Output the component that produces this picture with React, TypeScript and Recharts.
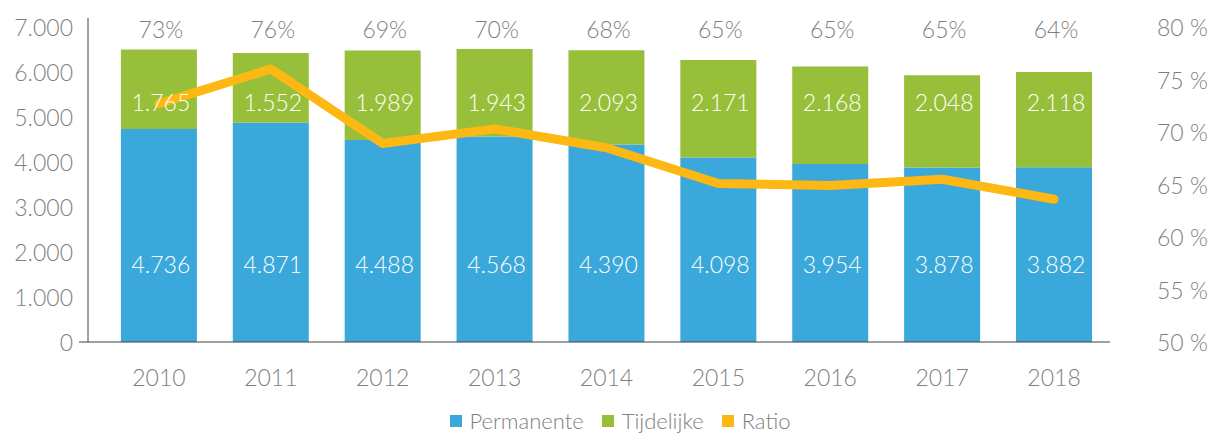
import React from "react";
import {
  ComposedChart,
  Bar,
  Line,
  XAxis,
  YAxis,
  Legend,
  LabelList,
} from "recharts";

const years = ["2010", "2011", "2012", "2013", "2014", "2015", "2016", "2017", "2018"];
const permanente = [4736, 4871, 4488, 4568, 4390, 4098, 3954, 3878, 3882];
const tijdelijke = [1765, 1552, 1989, 1943, 2093, 2171, 2168, 2048, 2118];
const ratio = [72.7, 76.0, 68.9, 70.3, 68.5, 65.1, 64.9, 65.5, 63.6];
const ratioLabels = ["73%", "76%", "69%", "70%", "68%", "65%", "65%", "65%", "64%"];
const leftTicks = [0, 1000, 2000, 3000, 4000, 5000, 6000, 7000];
const rightTicks = [50, 55, 60, 65, 70, 75, 80];

const COLORS = {
  permanente: "#3AA8DA",
  tijdelijke: "#97BF3A",
  ratio: "#FDB813",
  text: "#7F7F7F",
  axis: "#404040",
};

const FONT = "Lato, 'Open Sans', sans-serif";
const FS = 23;

const data = years.map((year, i) => ({
  year,
  permanente: permanente[i],
  tijdelijke: tijdelijke[i],
  ratio: ratio[i],
  ratioLabel: ratioLabels[i],
}));

// 1234 -> "1.234"
const fmt = (v: number) => String(v).replace(/\B(?=(\d{3})+(?!\d))/g, ".");

// labels sit on fixed rows, like in the original sheet
const fixedLabel = (rowY: number, format: (v: any) => string) => (props: any) => {
  const { x, width, value } = props;
  return (
    <text
      x={Number(x) + Number(width) / 2 + 2}
      y={rowY}
      textAnchor="middle"
      dominantBaseline="central"
      fill={rowY < 60 ? COLORS.text : "#ffffff"}
      fontSize={FS}
      fontWeight={300}
      fontFamily={FONT}
    >
      {format(value)}
    </text>
  );
};

const LeftTick = (props: any) => {
  const { x, y, payload } = props;
  return (
    <g>
      {payload.value === 0 && (
        <line x1={79} x2={88} y1={y} y2={y} stroke={COLORS.axis} strokeWidth={1} />
      )}
      <text
        x={x - 7}
        y={y}
        textAnchor="end"
        dominantBaseline="central"
        fill={COLORS.text}
        fontSize={FS}
        fontWeight={300}
        fontFamily={FONT}
      >
        {fmt(payload.value)}
      </text>
    </g>
  );
};

const RightTick = (props: any) => {
  const { y, payload } = props;
  return (
    <text
      x={1157}
      y={y}
      textAnchor="start"
      dominantBaseline="central"
      fill={COLORS.text}
      fontSize={FS}
      fontWeight={300}
      fontFamily={FONT}
    >
      {`${payload.value} %`}
    </text>
  );
};

const legendItems = [
  { name: "Permanente", color: COLORS.permanente },
  { name: "Tijdelijke", color: COLORS.tijdelijke },
  { name: "Ratio", color: COLORS.ratio },
];

const LegendContent = () => (
  <div
    style={{
      display: "flex",
      justifyContent: "center",
      gap: 18,
      fontFamily: FONT,
      fontWeight: 300,
      fontSize: 22,
      color: COLORS.text,
      lineHeight: "22px",
      paddingLeft: 18,
      paddingTop: 14,
    }}
  >
    {legendItems.map((item) => (
      <div key={item.name} style={{ display: "flex", alignItems: "center", gap: 8 }}>
        <span style={{ width: 12, height: 12, background: item.color, display: "inline-block" }} />
        <span>{item.name}</span>
      </div>
    ))}
  </div>
);

export default function App() {
  return (
    <div style={{ position: "absolute", left: 0, top: 0, background: "#fff" }}>
      <ComposedChart
        width={1222}
        height={437}
        data={data}
        margin={{ top: 18, right: 0, bottom: 0, left: 0 }}
        barCategoryGap="16%"
      >
        <XAxis
          dataKey="year"
          axisLine={{ stroke: COLORS.axis, strokeWidth: 1 }}
          tickLine={false}
          padding={{ left: 15, right: 0 }}
          height={54}
          tick={{ fill: COLORS.text, fontSize: FS, fontWeight: 300, fontFamily: FONT, dy: 20 }}
        />
        <YAxis
          yAxisId="left"
          width={88}
          domain={[0, 7200]}
          ticks={leftTicks}
          allowDataOverflow
          axisLine={{ stroke: COLORS.axis, strokeWidth: 1 }}
          tickLine={false}
          tick={<LeftTick />}
        />
        <YAxis
          yAxisId="right"
          orientation="right"
          width={112}
          domain={[50, 50 + (30 * 7200) / 7000]}
          ticks={rightTicks}
          allowDataOverflow
          axisLine={false}
          tickLine={false}
          tick={<RightTick />}
        />
        <Legend verticalAlign="bottom" height={41} content={<LegendContent />} />
        <Bar
          yAxisId="left"
          dataKey="permanente"
          name="Permanente"
          stackId="a"
          fill={COLORS.permanente}
          isAnimationActive={false}
        >
          <LabelList dataKey="permanente" content={fixedLabel(264, fmt)} />
        </Bar>
        <Bar
          yAxisId="left"
          dataKey="tijdelijke"
          name="Tijdelijke"
          stackId="a"
          fill={COLORS.tijdelijke}
          isAnimationActive={false}
        >
          <LabelList dataKey="tijdelijke" content={fixedLabel(102, fmt)} />
          <LabelList dataKey="ratioLabel" content={fixedLabel(29, (v) => String(v))} />
        </Bar>
        <Line
          yAxisId="right"
          dataKey="ratio"
          name="Ratio"
          type="linear"
          stroke={COLORS.ratio}
          strokeWidth={9}
          strokeLinecap="round"
          strokeLinejoin="round"
          dot={false}
          activeDot={false}
          isAnimationActive={false}
        />
      </ComposedChart>
    </div>
  );
}
